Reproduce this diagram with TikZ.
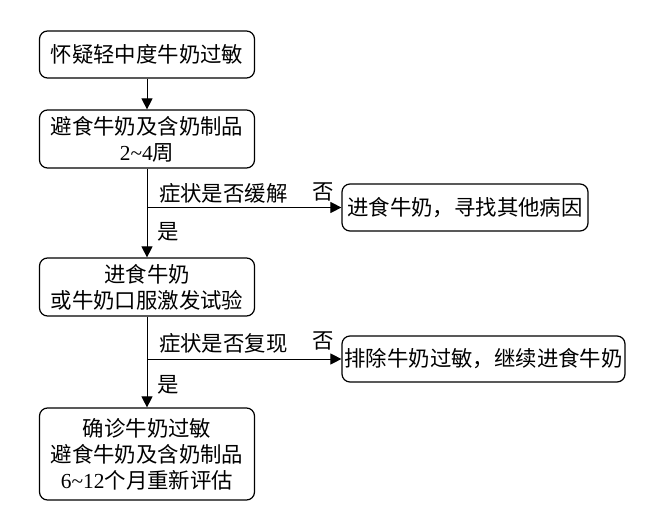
\documentclass[tikz,border=0pt]{standalone}
\usepackage{fontspec}
\setmainfont{Liberation Serif}
\newfontfamily\cjk{Noto Sans CJK SC}
\usetikzlibrary{arrows.meta}

\begin{document}
\begin{tikzpicture}[x=0.5pt, y=-0.5pt,
  every node/.style={font=\cjk\fontsize{10.7pt}{13pt}\selectfont},
  box/.style={draw, line width=0.6pt, rounded corners=4pt, align=center, inner sep=0pt},
  flow/.style={line width=0.5pt, -{Triangle[length=5.5pt, width=5.5pt]}}]
  \useasboundingbox (0,0) rectangle (652,518);

  % Define main column
  \node[box, minimum width=107.5pt, minimum height=23.5pt] (suspect) at (147,54.5) {怀疑轻中度牛奶过敏};
  \node[box, minimum width=107.5pt, minimum height=29pt] (avoid) at (147,139) {避食牛奶及含奶制品\\{\rmfamily 2\textasciitilde4}周};
  \node[box, minimum width=107.5pt, minimum height=29pt] (challenge) at (147,287) {进食牛奶\\或牛奶口服激发试验};
  \node[box, minimum width=107.5pt, minimum height=46pt] (confirm) at (147,454) {确诊牛奶过敏\\避食牛奶及含奶制品\\{\rmfamily 6\textasciitilde12}个月重新评估};

  % Side boxes (the "no" answers)
  \node[box, minimum width=123pt, minimum height=23.5pt] (other) at (465,207.5) {进食牛奶，寻找其他病因};
  \node[box, minimum width=141.5pt, minimum height=23pt] (exclude) at (483.5,359) {排除牛奶过敏，继续进食牛奶};

  % Branch points
  \coordinate (relief) at (147,207.5);
  \coordinate (recur) at (147,359);

  % Draw connectors
  \draw[flow] (suspect) -- (avoid);
  \draw[line width=0.5pt] (avoid) -- (relief);
  \draw[flow] (relief) -- (challenge);
  \draw[flow] (relief) -- (other);
  \draw[line width=0.5pt] (challenge) -- (recur);
  \draw[flow] (recur) -- (confirm);
  \draw[flow] (recur) -- (exclude);

  % Question and answer labels
  \node[anchor=west] (askrelief) at (152,193) {症状是否缓解};
  \node (norelief) at (323,192) {否};
  \node (yesrelief) at (168,232) {是};
  \node[anchor=west] (askrecur) at (152,343) {症状是否复现};
  \node (norecur) at (323,341) {否};
  \node (yesrecur) at (168,385) {是};

\end{tikzpicture}
\end{document}
